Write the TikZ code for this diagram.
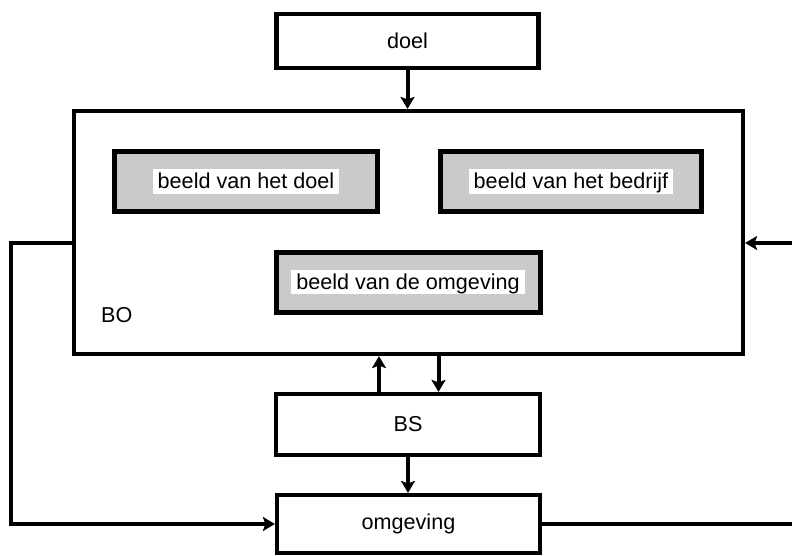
\documentclass[tikz,border=0pt]{standalone}
\usepackage{fontspec}
\setmainfont{Liberation Sans}
\usetikzlibrary{arrows.meta}
\definecolor{panelgray}{RGB}{202,202,202}
% white patch behind the text of a shaded panel
\newcommand{\whitelabel}[1]{{\setlength{\fboxsep}{0pt}\colorbox{white}{\hspace{5pt}\rule[-0.212em]{0pt}{1.117em}#1\hspace{5pt}}}}
\begin{document}
\begin{tikzpicture}[x=1pt,y=-1pt,
  every node/.style={font=\fontsize{21.6}{26}\selectfont},
  box/.style={draw=black, line width=4.2pt, fill=white, inner sep=0pt},
  panel/.style={draw=black, line width=5pt, fill=panelgray, inner sep=0pt},
  conn/.style={line width=4pt, -{Stealth[length=12pt,width=14pt,inset=2.5pt]}}]
\useasboundingbox (0,0) rectangle (792,556);
\clip (0,0) rectangle (792,556);

% outer frame of the organisation
\node[box, minimum width=669pt, minimum height=243pt] (BO) at (408.5,232.5) {};
\node[anchor=base west, inner sep=0pt] (BOlabel) at (101,322) {BO};

% shaded panels inside the frame
\node[panel, minimum width=263pt, minimum height=60pt] (bdoel) at (246,181.5) {\whitelabel{beeld van het doel}};
\node[panel, minimum width=261pt, minimum height=60pt] (bbedrijf) at (571,181.5) {\whitelabel{beeld van het bedrijf}};
\node[panel, minimum width=264pt, minimum height=60pt] (bomg) at (408,282) {\whitelabel{beeld van de omgeving}};

% single boxes on the central axis
\node[box, minimum width=262pt, minimum height=54pt] (doel) at (407.5,41) {doel};
\node[box, minimum width=264pt, minimum height=61pt] (BS) at (408,424.5) {BS};
\node[box, minimum width=263pt, minimum height=58pt] (omg) at (408.5,524) {omgeving};

% vertical links
\draw[conn] (doel.south) -- (doel.south |- BO.north);
\draw[conn] ([xshift=-29pt]BS.north) -- ([xshift=-29pt]BS.north |- BO.south);
\draw[conn] ([xshift=30pt]BO.south) -- ([xshift=30pt]BO.south |- BS.north);
\draw[conn] (BS.south) -- (BS.south |- omg.north);

% feedback loops round the frame
\draw[conn] ([yshift=-10.5pt]BO.west) -- ++(-61,0) |- (omg.west);
\draw[conn] (omg.east) -- ++(280,0) |- ([yshift=-10.5pt]BO.east);
\end{tikzpicture}
\end{document}
